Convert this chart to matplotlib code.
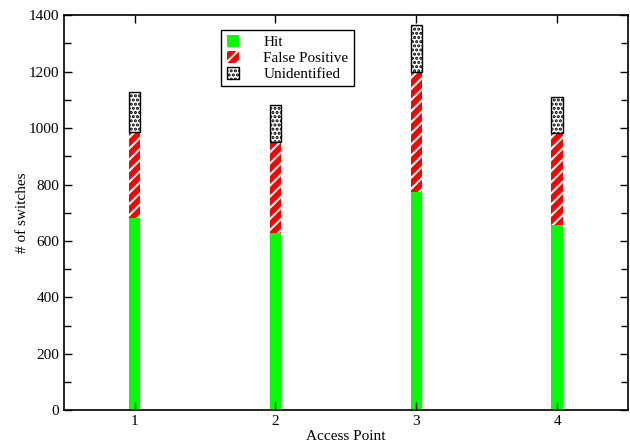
import numpy as np
import matplotlib
matplotlib.use("Agg")
import matplotlib.pyplot as plt
from matplotlib.ticker import MultipleLocator

plt.rcParams['font.family'] = ['Liberation Serif', 'DejaVu Serif']
plt.rcParams['hatch.linewidth'] = 1.5

# data
access_points = [1, 2, 3, 4]
hit = [680, 629, 775, 657]
false_positive = [306, 322, 423, 326]
unidentified = [141, 130, 167, 126]

hit = np.array(hit)
false_positive = np.array(false_positive)
unidentified = np.array(unidentified)

fig = plt.figure(figsize=(6.3, 4.47), dpi=100)
ax = fig.add_axes([0.1016, 0.0817, 0.8952, 0.8847])

w = 0.085
ax.bar(access_points, hit, width=w, color='#00ff00', linewidth=0, label='Hit')
ax.bar(access_points, false_positive, width=w, bottom=hit, facecolor='red',
       edgecolor='white', hatch='///', linewidth=0, label='False Positive')
ax.bar(access_points, unidentified, width=w, bottom=hit + false_positive,
       facecolor='white', edgecolor='black', hatch='....', linewidth=1.0,
       label='Unidentified')

ax.set_xlim(0.5, 4.5)
ax.set_ylim(0, 1400)
ax.set_xticks(access_points)
ax.yaxis.set_major_locator(MultipleLocator(200))
ax.yaxis.set_minor_locator(MultipleLocator(100))
ax.tick_params(which='both', direction='in', top=True, right=True, labelsize=11)
ax.tick_params(which='major', length=6, width=1)
ax.tick_params(which='minor', length=5, width=1)
for s in ax.spines.values():
    s.set_linewidth(1.2)

ax.set_xlabel('Access Point', fontsize=11, labelpad=1)
ax.set_ylabel('# of switches', fontsize=11, labelpad=0)

leg = ax.legend(loc='upper left', bbox_to_anchor=(0.279, 0.963), fontsize=11,
                fancybox=False, shadow=False, framealpha=1, edgecolor='black',
                handlelength=0.8, handleheight=0.8, handletextpad=1.6,
                labelspacing=0.12, borderpad=0.35, borderaxespad=0)
leg.get_frame().set_linewidth(1.0)

plt.savefig('out.png', dpi=100)
